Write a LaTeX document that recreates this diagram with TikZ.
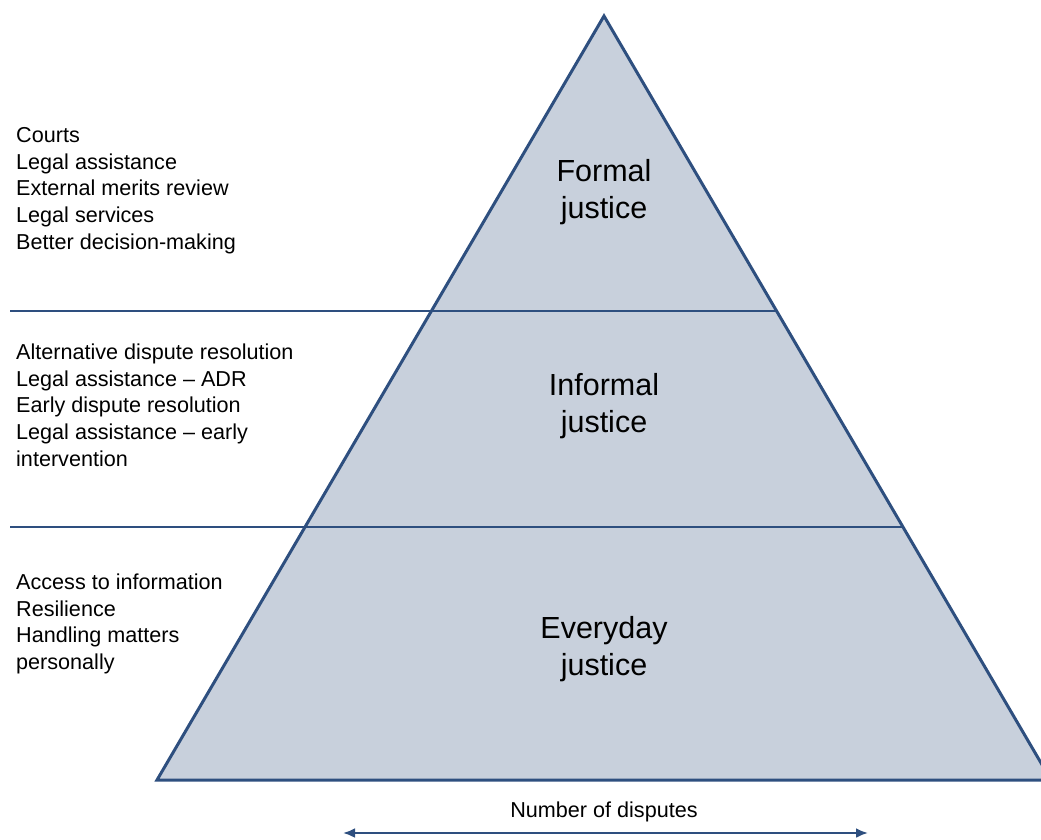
\documentclass[tikz,border=0pt]{standalone}
\usepackage{fontspec}
\setmainfont{Liberation Sans}
\usepackage{tikz}
\usetikzlibrary{arrows.meta,positioning}
\definecolor{pyrfill}{HTML}{C8D0DC}
\definecolor{pyrline}{HTML}{2E4F7F}

\begin{document}
\begin{tikzpicture}[x=1pt,y=-1pt,
  lst/.style={anchor=west,align=left,font=\fontsize{21.6}{26.7}\selectfont,inner sep=0pt},
  lvl/.style={align=center,font=\fontsize{30.5}{37.5}\selectfont,inner sep=0pt},
  sep/.style={draw=pyrline,line width=2.8pt},
  arr/.style={{Latex[length=12pt,width=10pt]}-{Latex[length=12pt,width=10pt]},line width=2.4pt,pyrline}]
\useasboundingbox (0,0) rectangle (1041,839);
\clip (0,0) rectangle (1041,839);
% pyramid
\coordinate (top) at (604,16);
\coordinate (bl) at (157,780);
\coordinate (br) at (1051,780);
\draw[fill=pyrfill,draw=pyrline,line width=3pt] (top) -- (br) -- (bl) -- cycle;
% tier borders
\coordinate (s1) at (10,311);
\coordinate (e1) at (777,311);
\coordinate (s2) at (10,527);
\coordinate (e2) at (904,527);
\draw[sep] (s1) -- (e1);
\draw[sep] (s2) -- (e2);
% tier names
\node[lvl] (formal) at (604,192) {Formal\\justice};
\node[lvl] (informal) at (604,406) {Informal\\justice};
\node[lvl] (everyday) at (604,649) {Everyday\\justice};
% measures
\node[lst] (formalm) at (16,190.5) {Courts\\Legal assistance\\External merits review\\Legal services\\Better decision-making};
\node[lst] (informalm) at (16,405) {Alternative dispute resolution\\Legal assistance -- ADR\\Early dispute resolution\\Legal assistance -- early\\intervention};
\node[lst] (everydaym) at (16,624) {Access to information\\Resilience\\Handling matters\\personally};
% axis
\coordinate (al) at (343,833);
\coordinate (ar) at (868,833);
\draw[arr] (al) -- (ar);
\node[font=\fontsize{21.6}{26}\selectfont,inner sep=0pt] (ndisp) at (604,812) {Number of disputes};
\end{tikzpicture}
\end{document}
